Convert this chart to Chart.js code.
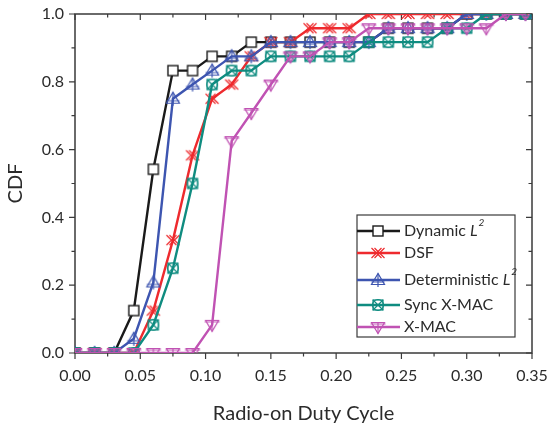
<!DOCTYPE html>
<html><head><meta charset="utf-8">
<script src="https://cdn.jsdelivr.net/npm/chart.js@4.4.1/dist/chart.umd.min.js"></script>
<style>html,body{margin:0;padding:0;background:#fff}#wrap{width:548px;height:430px}</style>
</head><body><div id="wrap"><canvas id="c" width="548" height="430"></canvas></div>
<script>
// ---- data ----
const dutyCycle = [0.000,0.015,0.030,0.045,0.060,0.075,0.090,0.105,0.120,0.135,0.150,0.165,0.180,0.195,0.210,0.225,0.240,0.255,0.270,0.285,0.300,0.315,0.330,0.345];
const dynamicL2 = [0,0,0,0.125,0.542,0.833,0.833,0.875,0.875,0.917,0.917,0.917,0.917,0.917,0.917,0.917,0.958,0.958,0.958,0.958,1,1,1,1];
const dsf       = [0,0,0,0,0.125,0.333,0.583,0.750,0.792,0.875,0.917,0.917,0.958,0.958,0.958,1,1,1,1,1,1,1,1,1];
const detL2     = [0,0,0,0.042,0.208,0.750,0.792,0.833,0.875,0.875,0.917,0.917,0.917,0.917,0.917,0.917,0.958,0.958,0.958,0.958,1,1,1,1];
const syncXmac  = [0,0,0,0,0.083,0.250,0.500,0.792,0.833,0.833,0.875,0.875,0.875,0.875,0.875,0.917,0.917,0.917,0.917,0.958,0.958,1,1,1];
const xmac      = [0,0,0,0,0,0,0,0.083,0.625,0.708,0.792,0.875,0.875,0.917,0.917,0.958,0.958,0.958,0.958,0.958,0.958,0.958,1,1];
const seriesLabels = ["Dynamic L²","DSF","Deterministic L²","Sync X-MAC","X-MAC"];
const xTickValues = [0,0.05,0.10,0.15,0.20,0.25,0.30,0.35];
const yTickValues = [0,0.2,0.4,0.6,0.8,1.0];

const colors = ["#1a1a1a","#ee2a2e","#3d55b0","#0f8c80","#c052b3"];
const FONT = "Lato, 'Open Sans', sans-serif";
const TXT = "#2b2b2b";

function marker(kind, color){
  const s = 20, m = s/2;
  const c = document.createElement('canvas'); c.width = s; c.height = s;
  const g = c.getContext('2d');
  g.strokeStyle = color; g.lineWidth = 1.2; g.fillStyle = '#fff';
  const X = (dx,r)=>{ g.beginPath(); g.moveTo(m-r+dx,m-r); g.lineTo(m+r+dx,m+r); g.moveTo(m+r+dx,m-r); g.lineTo(m-r+dx,m+r); g.stroke(); };
  if (kind==='square'){ g.lineWidth=1.4; g.fillRect(m-5,m-5,10,10); g.strokeRect(m-5,m-5,10,10); }
  else if (kind==='xx'){ X(-1.5,5); X(1.5,5); }
  else if (kind==='tri'){ g.beginPath(); g.moveTo(m,m-6.5); g.lineTo(m-6.5,m+4.5); g.lineTo(m+6.5,m+4.5); g.closePath(); g.stroke();
    g.beginPath(); g.moveTo(m,m-6.5); g.lineTo(m,m+7); g.moveTo(m-6.5,m+2); g.lineTo(m+6.5,m+2); g.stroke(); }
  else if (kind==='sync'){ g.strokeRect(m-5,m-5,10,10); X(0,5); g.beginPath(); g.arc(m,m,5.5,0,Math.PI*2); g.stroke(); }
  else if (kind==='tridown'){ g.beginPath(); g.moveTo(m-6.5,m-4.5); g.lineTo(m+6.5,m-4.5); g.lineTo(m,m+6.5); g.closePath(); g.stroke();
    g.beginPath(); g.moveTo(m-7.5,m-3); g.lineTo(m+7.5,m-3); g.moveTo(m,m-4.5); g.lineTo(m,m+6.5); g.stroke(); }
  return c;
}
const kinds = ['square','xx','tri','sync','tridown'];
const markers = kinds.map((k,i)=>marker(k, colors[i]));
const seriesValues = [dynamicL2, dsf, detL2, syncXmac, xmac];

const datasets = seriesValues.map((vals,i)=>({
  label: seriesLabels[i],
  data: dutyCycle.map((x,j)=>({x, y: vals[j]})),
  borderColor: colors[i],
  backgroundColor: colors[i],
  borderWidth: 2.4,
  pointStyle: markers[i],
  pointRadius: 6,
  tension: 0,
  order: 5 - i
}));

const frame = {
  id: 'frame',
  beforeDatasetsDraw(chart){
    const {ctx, chartArea: a, scales:{x, y}} = chart;
    ctx.save();
    ctx.strokeStyle = '#3a3a3a'; ctx.lineWidth = 1.5;
    ctx.strokeRect(a.left, a.top, a.right-a.left, a.bottom-a.top);
    ctx.lineWidth = 1.2;
    ctx.beginPath();
    for (let i=0;i<=14;i++){
      const v = i*0.025, px = x.getPixelForValue(v), L = (i%2===0)?6:3.5;
      ctx.moveTo(px,a.bottom); ctx.lineTo(px,a.bottom+L);
      ctx.moveTo(px,a.top); ctx.lineTo(px,a.top+L);
    }
    for (let i=0;i<=10;i++){
      const v = i*0.1, py = y.getPixelForValue(v), L = (i%2===0)?6:3.5;
      ctx.moveTo(a.left,py); ctx.lineTo(a.left-L,py);
      ctx.moveTo(a.right,py); ctx.lineTo(a.right-L,py);
    }
    ctx.stroke();
    ctx.restore();
  }
};

const legendBox = {
  id: 'legendBox',
  afterDatasetsDraw(chart){
    const {ctx, chartArea: a} = chart;
    const bx = a.right - 175, by = a.top + 201, bw = 158, bh = 122;
    const rows = [16, 38, 65, 90, 112];
    ctx.save();
    ctx.fillStyle = '#fff'; ctx.fillRect(bx,by,bw,bh);
    ctx.strokeStyle = '#3a3a3a'; ctx.lineWidth = 1.2; ctx.strokeRect(bx,by,bw,bh);
    chart.data.datasets.forEach((ds,i)=>{
      const cy = by + rows[i];
      ctx.strokeStyle = ds.borderColor; ctx.lineWidth = 2.4;
      ctx.beginPath(); ctx.moveTo(bx, cy); ctx.lineTo(bx+43, cy); ctx.stroke();
      const mk = ds.pointStyle; ctx.drawImage(mk, bx+21-mk.width/2, cy-mk.height/2);
      ctx.fillStyle = TXT; ctx.textBaseline = 'middle'; ctx.textAlign = 'left';
      let tx = bx + 47;
      const lab = ds.label;
      if (lab.endsWith('L²')){
        const base = lab.slice(0, -2);
        ctx.font = '16px ' + FONT; ctx.fillText(base, tx, cy); tx += ctx.measureText(base).width;
        ctx.font = 'italic 16px ' + FONT; ctx.fillText('L', tx, cy); tx += ctx.measureText('L').width + 1;
        ctx.font = 'italic 10px ' + FONT; ctx.fillText('2', tx, cy - 8);
      } else {
        ctx.font = '16px ' + FONT; ctx.fillText(lab, tx, cy);
      }
    });
    ctx.restore();
  }
};

new Chart(document.getElementById('c'), {
  type: 'line',
  data: { datasets },
  options: {
    responsive: false, animation: false,
    layout: { padding: { top: 14, right: 16, left: 0, bottom: 0 } },
    plugins: { legend: { display: false }, tooltip: { enabled: false } },
    scales: {
      x: {
        type: 'linear', min: 0, max: 0.35,
        afterBuildTicks: s => { s.ticks = xTickValues.map(v=>({value:v})); },
        afterFit: s => { s.height = 77; s.paddingLeft = 0; s.paddingRight = 0; },
        grid: { display: false, drawTicks: false }, border: { display: false },
        ticks: { padding: 13, color: TXT, font: { family: FONT, size: 16 }, callback: v => Number(v).toFixed(2), maxRotation: 0, autoSkip: false },
        title: { display: true, text: 'Radio-on Duty Cycle', color: TXT, font: { family: FONT, size: 20 }, padding: { top: 0, bottom: 4 } }
      },
      y: {
        type: 'linear', min: 0, max: 1,
        afterBuildTicks: s => { s.ticks = yTickValues.map(v=>({value:v})); },
        afterFit: s => { s.width = 75; s.paddingTop = 0; s.paddingBottom = 0; },
        grid: { display: false, drawTicks: false }, border: { display: false },
        ticks: { padding: 11, color: TXT, font: { family: FONT, size: 16 }, callback: v => Number(v).toFixed(1) },
        title: { display: true, text: 'CDF', color: TXT, font: { family: FONT, size: 20 }, padding: { top: 4, bottom: 0 } }
      }
    }
  },
  plugins: [frame, legendBox]
});
</script>
</body></html>
